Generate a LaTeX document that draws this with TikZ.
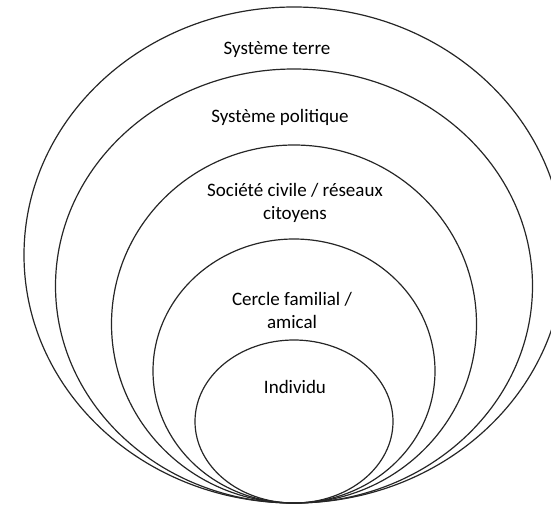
\documentclass[tikz,border=0pt]{standalone}
\usepackage{fontspec}
\setmainfont{Carlito}
\usetikzlibrary{positioning}
\tikzset{
  ring/.style={draw=black!85, line width=1.2pt},
  layer/.style={font=\fontsize{19}{23}\selectfont, align=center, inner sep=0pt}
}

\begin{document}
\begin{tikzpicture}[x=1pt, y=-1pt]
  \useasboundingbox (0,0) rectangle (551,506);
  \clip (0,0) rectangle (551,506);

  % Nested circles, all touching at the bottom
  \foreach \rx/\ry in {270/248, 238.5/217, 182.5/179, 141/132, 99/81.5} {
    \draw[ring] (294,503-\ry) ellipse [x radius=\rx pt, y radius=\ry pt];
  }

  % Labels
  \node[layer] (terre) at (277,50) {Système terre};
  \node[layer] (politique) at (280,117) {Système politique};
  \node[layer] (societe) at (295,202.5) {Société civile / réseaux\\citoyens};
  \node[layer] (cercle) at (292,310.5) {Cercle familial /\\amical};
  \node[layer] (individu) at (295,387) {Individu};
\end{tikzpicture}
\end{document}
